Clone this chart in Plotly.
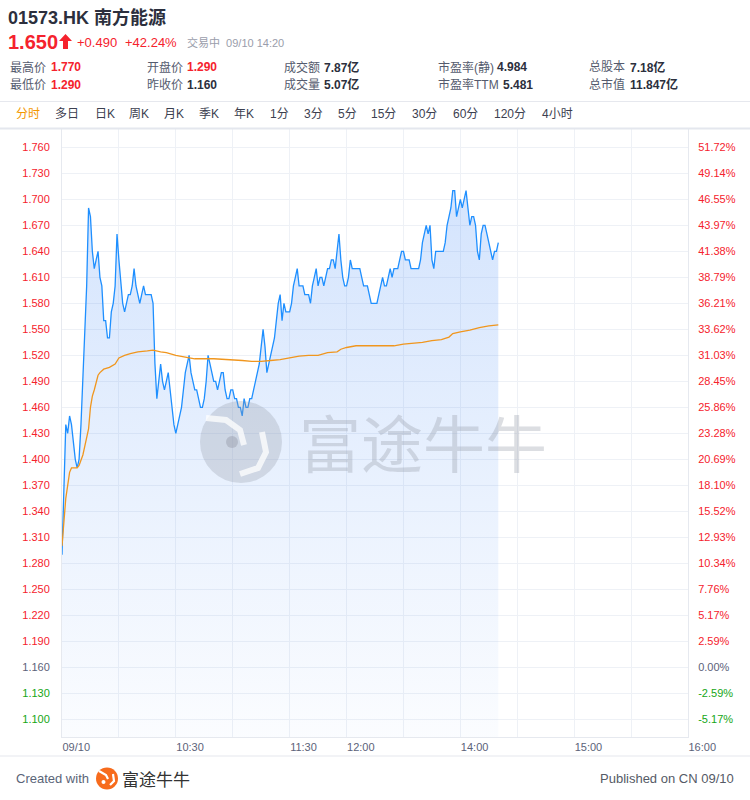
import plotly.graph_objects as go

# ---------------- data ----------------
price = [
    1.29, 1.37, 1.44, 1.43, 1.45, 1.44, 1.42, 1.40, 1.39, 1.40, 1.44, 1.50, 1.55, 1.60, 1.69,
    1.68, 1.64, 1.62, 1.63, 1.64, 1.61, 1.60, 1.56, 1.56, 1.54, 1.54, 1.57, 1.58, 1.60, 1.66,
    1.63, 1.60, 1.58, 1.57, 1.58, 1.59, 1.59, 1.60, 1.62, 1.60, 1.59, 1.58, 1.59, 1.60, 1.59,
    1.59, 1.59, 1.59, 1.58,
    1.51, 1.47, 1.49, 1.51, 1.49, 1.48, 1.49, 1.50, 1.48, 1.46, 1.44, 1.43, 1.44, 1.45, 1.46,
    1.48, 1.50, 1.51, 1.52,
    1.50, 1.49, 1.48, 1.48, 1.47, 1.46, 1.46, 1.47, 1.49, 1.52, 1.51, 1.50, 1.49, 1.49, 1.48,
    1.49, 1.50, 1.50, 1.48, 1.47,
    1.47, 1.48, 1.48, 1.47, 1.47, 1.46, 1.46, 1.45, 1.47, 1.46, 1.46, 1.47, 1.47, 1.48, 1.49,
    1.50, 1.51, 1.53,
    1.55, 1.53, 1.50, 1.51, 1.52, 1.53, 1.54, 1.56, 1.58, 1.59, 1.56, 1.58, 1.57, 1.57, 1.57,
    1.58, 1.60, 1.61, 1.62, 1.60, 1.60, 1.60, 1.59, 1.59, 1.59,
    1.58, 1.60, 1.61, 1.62, 1.60, 1.61, 1.61, 1.60, 1.61, 1.62, 1.62, 1.63, 1.63, 1.62, 1.64,
    1.66, 1.63, 1.61, 1.60, 1.60,
    1.61, 1.63, 1.62, 1.62, 1.62, 1.62, 1.62, 1.61, 1.60, 1.60, 1.60, 1.59, 1.58, 1.58, 1.58,
    1.58, 1.59, 1.60, 1.61, 1.60,
    1.60, 1.61, 1.62, 1.61, 1.62, 1.62, 1.62, 1.63, 1.64, 1.64, 1.63, 1.63, 1.63, 1.62, 1.62,
    1.62, 1.62, 1.62, 1.63, 1.65,
    1.66, 1.67, 1.66, 1.67, 1.63, 1.62, 1.64, 1.64, 1.64, 1.64, 1.64, 1.65, 1.67, 1.68, 1.69,
    1.71, 1.71, 1.68, 1.69, 1.70,
    1.69, 1.70, 1.71, 1.69, 1.67, 1.68, 1.68, 1.67, 1.64, 1.63, 1.66, 1.67, 1.67, 1.66, 1.65,
    1.64, 1.63, 1.64, 1.64, 1.65,
]
minutes = list(range(len(price)))  # trading minutes since 09:30 (lunch removed)

avg_minutes = [0, 1, 2, 3, 4, 5, 6, 7, 8, 9, 10, 11, 12, 13, 14, 15, 16, 17, 18, 19, 20,
               22, 25, 28, 30, 33, 36, 40, 45, 48,
               52, 55, 60, 65, 70, 80, 90, 95, 100, 105,
               110, 115, 120, 125, 130, 135, 140, 145, 147, 150,
               155, 165, 175, 180, 185, 190, 195, 200, 204, 206,
               210, 215, 220, 225, 230]
avg_price = [1.300, 1.330, 1.355, 1.370, 1.385, 1.390, 1.390, 1.390, 1.390, 1.393, 1.398,
             1.405, 1.415, 1.425, 1.435, 1.460, 1.473, 1.480, 1.488, 1.497, 1.500,
             1.504, 1.506, 1.510, 1.517, 1.520, 1.522, 1.524, 1.525, 1.526,
             1.524, 1.523, 1.520, 1.518, 1.516, 1.516, 1.515, 1.514, 1.513, 1.513,
             1.514, 1.515, 1.517, 1.519, 1.520, 1.520, 1.523, 1.524, 1.527, 1.529,
             1.531, 1.531, 1.531, 1.533, 1.534, 1.535, 1.537, 1.538, 1.541, 1.545,
             1.547, 1.549, 1.552, 1.554, 1.555]

prev_close = 1.160
price_ticks = [1.100, 1.130, 1.160, 1.190, 1.220, 1.250, 1.280, 1.310, 1.340, 1.370, 1.400,
               1.430, 1.460, 1.490, 1.520, 1.550, 1.580, 1.610, 1.640, 1.670, 1.700, 1.730, 1.760]
price_tick_labels = ["1.100", "1.130", "1.160", "1.190", "1.220", "1.250", "1.280", "1.310",
                     "1.340", "1.370", "1.400", "1.430", "1.460", "1.490", "1.520", "1.550",
                     "1.580", "1.610", "1.640", "1.670", "1.700", "1.730", "1.760"]
pct_tick_labels = ["-5.17%", "-2.59%", "0.00%", "2.59%", "5.17%", "7.76%", "10.34%", "12.93%",
                   "15.52%", "18.10%", "20.69%", "23.28%", "25.86%", "28.45%", "31.03%",
                   "33.62%", "36.21%", "38.79%", "41.38%", "43.97%", "46.55%", "49.14%", "51.72%"]
x_tick_minutes = [0, 30, 60, 90, 120, 150, 180, 210, 240, 270, 300, 330]
x_tick_labels = ["09/10", "", "10:30", "", "11:30", "12:00", "", "14:00", "", "15:00", "", "16:00"]

tab_labels = ["分时", "多日", "日K", "周K", "月K", "季K", "年K", "1分", "3分", "5分",
              "15分", "30分", "60分", "120分", "4小时"]

# ---------------- styling ----------------
FONT = "Liberation Sans, Arial, Noto Sans CJK SC, sans-serif"
CJK = "Noto Sans CJK SC, Liberation Sans, sans-serif"
RED = "#f5222d"
GREEN = "#16a616"
NEUTRAL = "#5c6279"
DARK = "#2c2f3d"
GRAY = "#555b6e"
GRID = "#eef1f6"

W, H = 750, 800
L, R, T, B = 62, 62, 129, 63
PW, PH = W - L - R, H - T - B


def px_x(x):
    return (x - L) / PW


def px_y(y):
    return (H - B - y) / PH


def colored(val, label):
    if abs(val - prev_close) < 1e-9:
        c = NEUTRAL
    elif val > prev_close:
        c = RED
    else:
        c = GREEN
    return f'<span style="color:{c}">{label}</span>'


left_text = [colored(v, s) for v, s in zip(price_ticks, price_tick_labels)]
right_text = [colored(v, s) for v, s in zip(price_ticks, pct_tick_labels)]

yrange = [1.0796, 1.7811]

fig = go.Figure()

fig.add_trace(go.Scatter(
    x=minutes, y=price, mode="lines",
    line=dict(color="#1e8fff", width=1.3),
    fill="tozeroy",
    fillgradient=dict(type="vertical",
                      colorscale=[[0, "rgba(40,120,245,0.02)"], [1, "rgba(40,120,245,0.20)"]],
                      start=yrange[0], stop=1.71),
    hoverinfo="skip", showlegend=False,
))
fig.add_trace(go.Scatter(
    x=avg_minutes, y=avg_price, mode="lines",
    line=dict(color="#f0961e", width=1.3),
    hoverinfo="skip", showlegend=False,
))
# invisible trace to activate right axis
fig.add_trace(go.Scatter(x=[0], y=[prev_close], yaxis="y2", mode="markers",
                         marker=dict(opacity=0), hoverinfo="skip", showlegend=False))

fig.update_layout(
    width=W, height=H, autosize=False,
    margin=dict(l=L, r=R, t=T, b=B, pad=0),
    paper_bgcolor="white", plot_bgcolor="white",
    font=dict(family=FONT, size=11, color=NEUTRAL),
    xaxis=dict(range=[0, 330], tickmode="array", tickvals=x_tick_minutes, ticktext=x_tick_labels,
               showgrid=True, gridcolor=GRID, gridwidth=1, zeroline=False,
               showline=True, linecolor="#e6e9ef", mirror=True,
               ticks="", ticklabelposition="outside right",
               tickfont=dict(size=11, color=NEUTRAL, family=FONT), fixedrange=True),
    yaxis=dict(range=yrange, tickmode="array", tickvals=price_ticks, ticktext=left_text,
               showgrid=True, gridcolor=GRID, gridwidth=1, zeroline=False,
               showline=True, linecolor="#e6e9ef", ticks="", ticklabelstandoff=9,
               tickfont=dict(size=11, family=FONT)),
    yaxis2=dict(range=yrange, overlaying="y", side="right", tickmode="array",
                tickvals=price_ticks, ticktext=right_text, showgrid=False, zeroline=False,
                showline=True, linecolor="#e6e9ef", ticks="", ticklabelstandoff=7,
                tickfont=dict(size=11, family=FONT)),
)

ann = []


def add_text(text, x, y, size, color, anchor="left", family=FONT):
    ann.append(dict(text=text, x=px_x(x), y=px_y(y), xref="paper", yref="paper",
                    xanchor=anchor, yanchor="middle", showarrow=False,
                    font=dict(size=size, color=color, family=family)))


# header
add_text("<b>01573.HK 南方能源</b>", 6, 17, 18, DARK)
add_text("<b>1.650</b>", 6, 42, 20, RED)
add_text("+0.490", 75, 43, 13, RED)
add_text("+42.24%", 123, 43, 13, RED)
add_text("交易中  09/10 14:20", 185, 43, 11, "#9a9dab")

rows = [
    (67, [("最高价", 8, GRAY), ("<b>1.770</b>", 49, RED),
          ("开盘价", 145, GRAY), ("<b>1.290</b>", 185, RED),
          ("成交额", 282, GRAY), ("<b>7.87亿</b>", 322, DARK),
          ("市盈率(静)", 436, GRAY), ("<b>4.984</b>", 495, DARK),
          ("总股本", 587, GRAY), ("<b>7.18亿</b>", 628, DARK)]),
    (85, [("最低价", 8, GRAY), ("<b>1.290</b>", 49, RED),
          ("昨收价", 145, GRAY), ("<b>1.160</b>", 185, DARK),
          ("成交量", 282, GRAY), ("<b>5.07亿</b>", 322, DARK),
          ("市盈率TTM", 436, GRAY), ("<b>5.481</b>", 501, DARK),
          ("总市值", 587, GRAY), ("<b>11.847亿</b>", 628, DARK)]),
]
for yy, cells in rows:
    for txt, xx, col in cells:
        add_text(txt, xx, yy, 12, col)

tab_x = [14, 53, 93, 127, 162, 197, 232, 268, 302, 336, 369, 410, 451, 492, 540]
for lab, xx in zip(tab_labels, tab_x):
    add_text(lab, xx, 114, 12, "#f39800" if lab == "分时" else "#3c4050")

# footer
add_text("Created with", 14, 778, 13, "#5a6478")
add_text("富途牛牛", 120, 778, 17, "#333333", family=CJK)
add_text("Published on CN 09/10", 736, 778, 13, "#555a66", anchor="right")

# watermark
add_text("富途牛牛", 423, 441, 62, "rgba(150,156,168,0.33)", anchor="center", family=CJK)

fig.update_layout(annotations=ann)


def path(points, close=True):
    s = "M " + " L ".join(f"{px_x(a):.5f},{px_y(b):.5f}" for a, b in points)
    return s + (" Z" if close else "")


shapes = []
# separators
for yy, col, wd in [(101.5, "#e6e8ee", 1.2), (128.5, "#e4e7ee", 2), (756, "#e6e8ee", 1.2)]:
    shapes.append(dict(type="line", xref="paper", yref="paper", x0=px_x(0), x1=px_x(750),
                       y0=px_y(yy), y1=px_y(yy), line=dict(color=col, width=wd)))
# up arrow next to price
shapes.append(dict(type="path", xref="paper", yref="paper",
                   path=path([(65.5, 34), (72, 41), (68, 41), (68, 49), (63, 49), (63, 41), (59, 41)]),
                   fillcolor=RED, line=dict(width=0)))
# footer logo
shapes.append(dict(type="circle", xref="paper", yref="paper",
                   x0=px_x(96), x1=px_x(118), y0=px_y(767.5), y1=px_y(789.5),
                   fillcolor="#f76b1c", line=dict(width=0)))
shapes.append(dict(type="path", xref="paper", yref="paper",
                   path=path([(99, 771), (106, 775), (108, 779)], close=False),
                   line=dict(color="white", width=2.2)))
shapes.append(dict(type="path", xref="paper", yref="paper",
                   path=path([(110, 785), (114, 781), (113, 774)], close=False),
                   line=dict(color="white", width=2.2)))
shapes.append(dict(type="circle", xref="paper", yref="paper",
                   x0=px_x(101.5), x1=px_x(105.5), y0=px_y(780), y1=px_y(784),
                   fillcolor="white", line=dict(width=0)))
# watermark logo
shapes.append(dict(type="circle", xref="paper", yref="paper",
                   x0=px_x(200), x1=px_x(282), y0=px_y(401), y1=px_y(483),
                   fillcolor="rgba(150,156,168,0.30)", line=dict(width=0)))
shapes.append(dict(type="path", xref="paper", yref="paper",
                   path=path([(206, 418), (226, 420), (240, 430), (244, 445)], close=False),
                   line=dict(color="rgba(255,255,255,0.75)", width=6)))
shapes.append(dict(type="path", xref="paper", yref="paper",
                   path=path([(240, 474), (258, 468), (266, 452), (262, 432)], close=False),
                   line=dict(color="rgba(255,255,255,0.75)", width=6)))
shapes.append(dict(type="circle", xref="paper", yref="paper",
                   x0=px_x(226), x1=px_x(238), y0=px_y(436), y1=px_y(448),
                   fillcolor="rgba(150,156,168,0.45)", line=dict(width=0)))
fig.update_layout(shapes=shapes)

fig.write_html("out.html",
               config={"displayModeBar": False, "staticPlot": True},
               post_script="document.body.style.margin='0';document.body.style.overflow='hidden';")
